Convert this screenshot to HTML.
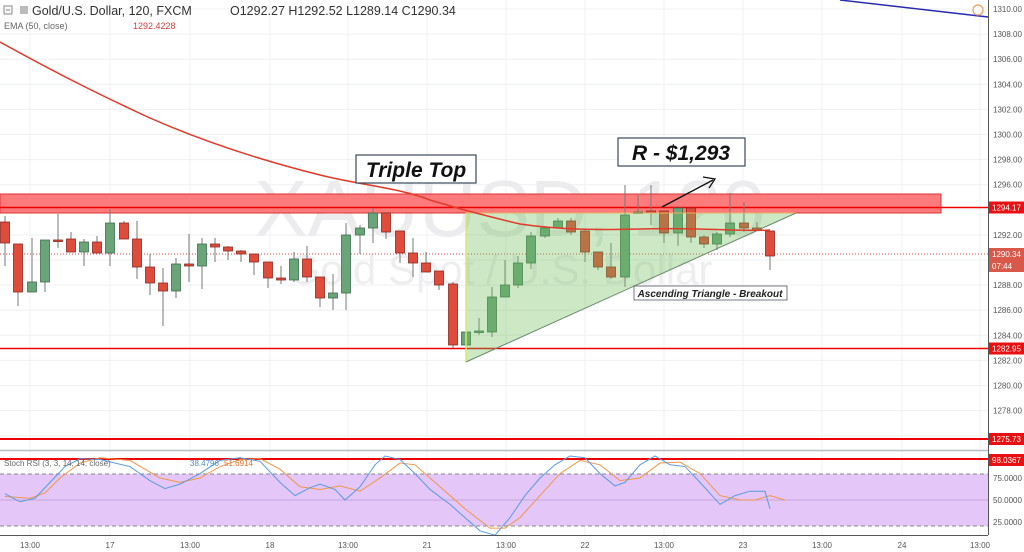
<!DOCTYPE html>
<html><head><meta charset="utf-8"><style>
html,body{margin:0;padding:0;background:#fff;}
svg{display:block;font-family:"Liberation Sans",sans-serif;}
</style></head><body>
<svg id="c" width="1024" height="552" viewBox="0 0 1024 552" xmlns="http://www.w3.org/2000/svg">
<rect width="1024" height="552" fill="#fff"/>
<g id="grid" stroke="#eef0f3" stroke-width="1"></g>
<text x="510" y="236" font-size="80" fill="#ececef" text-anchor="middle">XAUUSD, 120</text>
<text x="500" y="284" font-size="42" fill="#eeeef1" text-anchor="middle">Gold Spot / U.S. Dollar</text>
<!-- red band -->
<rect x="0" y="194" width="941" height="19" fill="#ff7b7b" stroke="#d33" stroke-width="1"/>
<line x1="0" y1="207.5" x2="988" y2="207.5" stroke="#e00" stroke-width="1.5"/>
<line x1="0" y1="348.5" x2="988" y2="348.5" stroke="#e00" stroke-width="1.5"/>
<line x1="0" y1="439" x2="988" y2="439" stroke="#e00" stroke-width="2"/>
<line x1="0" y1="254" x2="988" y2="254" stroke="#d44" stroke-width="1" stroke-dasharray="1,2"/>
<line x1="840" y1="0" x2="988" y2="17" stroke="#2a2ab0" stroke-width="1.5"/>
<circle cx="978" cy="10" r="5" fill="#fff" stroke="#e8a060" stroke-width="1.2"/>
<g id="candles"></g>
<polygon points="466,213 796,213 466,362" fill="rgba(110,190,90,0.35)" stroke="none"/>
<line x1="466" y1="213" x2="466" y2="362" stroke="#dde86a" stroke-width="1.5"/>
<line x1="466" y1="213" x2="796" y2="213" stroke="#e8b060" stroke-width="1"/>
<line x1="466" y1="362" x2="796" y2="213" stroke="#6a8a6a" stroke-width="1"/>
<path id="ema" fill="none" stroke="#e03a2a" stroke-width="1.5" d="M0,42 C60,75 100,95 150,118 C200,140 260,160 320,175 C360,185 400,188 430,200 C450,206 470,212 520,224 C560,230 600,230 640,229 C700,227 740,232 770,230"/>
<!-- annotations -->
<rect x="356" y="155" width="120" height="28" fill="#fff" stroke="#3a4a5a" stroke-width="1.2"/>
<text x="416" y="177" font-size="21" font-weight="bold" font-style="italic" text-anchor="middle" fill="#111">Triple Top</text>
<rect x="618" y="138" width="127" height="28" fill="#fff" stroke="#3a4a5a" stroke-width="1.2"/>
<text x="681" y="160" font-size="21" font-weight="bold" font-style="italic" text-anchor="middle" fill="#111">R - $1,293</text>
<line x1="662" y1="207" x2="713" y2="180" stroke="#111" stroke-width="1.3"/>
<polyline points="703,177 715,179 709,188" fill="none" stroke="#111" stroke-width="1.3"/>
<rect x="634" y="286" width="153" height="14" fill="#fff" stroke="#556" stroke-width="0.8"/>
<text x="710" y="297" font-size="10" font-weight="bold" font-style="italic" text-anchor="middle" fill="#222">Ascending Triangle - Breakout</text>
<!-- header -->
<rect x="4" y="6" width="8" height="8" fill="none" stroke="#888"/>
<line x1="6" y1="10" x2="10" y2="10" stroke="#888"/>
<rect x="20" y="6" width="8" height="8" fill="#bbb"/>
<text x="32" y="15" font-size="12.5" fill="#333">Gold/U.S. Dollar, 120, FXCM</text>
<text x="230" y="15" font-size="12.5" fill="#333">O1292.27  H1292.52  L1289.14  C1290.34</text>
<text x="4" y="29" font-size="9" fill="#666">EMA (50, close)</text>
<text x="133" y="29" font-size="9" fill="#d04040">1292.4228</text>
<!-- pane separator -->
<line x1="0" y1="450.5" x2="988" y2="450.5" stroke="#b8bcc4" stroke-width="1.5"/>
<!-- stoch -->
<rect x="0" y="474" width="988" height="52" fill="#e4c6f8"/>
<line x1="0" y1="474" x2="988" y2="474" stroke="#888" stroke-dasharray="4,3"/>
<line x1="0" y1="526" x2="988" y2="526" stroke="#888" stroke-dasharray="4,3"/>
<line x1="0" y1="500" x2="988" y2="500" stroke="#c6a6dc"/>
<line x1="0" y1="459" x2="988" y2="459" stroke="#e00" stroke-width="2"/>
<polyline id="orange" fill="none" stroke="#f0964a" stroke-width="1"/>
<polyline id="blue" fill="none" stroke="#5a9ae0" stroke-width="1"/>
<text x="4" y="466" font-size="8" fill="#666">Stoch RSI (3, 3, 14, 14, close)</text>
<text x="190" y="466" font-size="8" fill="#4a8ad0">38.4796</text>
<text x="224" y="466" font-size="8" fill="#e07030">51.6914</text>
<!-- axes -->
<line x1="988.5" y1="0" x2="988.5" y2="535" stroke="#555"/>
<line x1="0" y1="535.5" x2="988" y2="535.5" stroke="#555"/>
<g id="axis" font-size="8" fill="#555"></g>
</svg>
<script>
var NS="http://www.w3.org/2000/svg";
function el(p,t,a,txt){var e=document.createElementNS(NS,t);for(var k in a)e.setAttribute(k,a[k]);if(txt!==undefined)e.textContent=txt;document.getElementById(p).appendChild(e);return e;}
function py(p){return 9+(1310-p)*12.55;}
var tx=[30,110,190,270,348,427,506,585,664,743,822,902,980];
tx.forEach(function(x){el('grid','line',{x1:x,y1:0,x2:x,y2:535});});
for(var p=1310;p>=1276;p-=2){el('grid','line',{x1:0,y1:py(p),x2:988,y2:py(p)});}
for(var p=1310;p>=1278;p-=2){el('axis','text',{x:993,y:py(p)+3},p.toFixed(2));}
var tl=["13:00","17","13:00","18","13:00","21","13:00","22","13:00","23","13:00","24","13:00"];
tx.forEach(function(x,i){el('axis','text',{x:x,y:548,'text-anchor':'middle'},tl[i]);});
[["75.0000",478],["50.0000",500],["25.0000",522]].forEach(function(a){el('axis','text',{x:993,y:a[1]+3},a[0]);});
function tag(y,t,c){el('axis','rect',{x:989,y:y-6,width:35,height:12,fill:c});var e=el('axis','text',{x:992,y:y+3,fill:'#fff'},t);}
tag(207.5,"1294.17","#e81010");tag(254,"1290.34","#d8584a");tag(266,"07:44","#d8584a");
tag(348.5,"1282.95","#e81010");tag(439,"1275.73","#e81010");tag(460,"98.0367","#e81010");
var C=[[5,222,243,216,266],[18,244,292,244,306],[32,292,282,238,292],[45,282,240,240,292],[58,240,241,214,248],
[71,239,252,232,252],[84,252,242,239,266],[97,242,253,236,253],[110,253,223,209,266],[124,223,239,221,239],
[137,239,267,221,279],[150,267,283,254,295],[163,283,291,268,326],[176,291,264,258,298],[189,264,266,234,282],
[202,266,244,238,289],[215,244,247,238,262],[228,247,251,246,260],[241,251,254,250,262],[254,254,262,254,275],
[268,262,278,262,288],[281,278,280,266,284],[294,280,259,252,282],[307,259,277,246,282],[320,277,298,277,307],
[333,298,293,274,310],[346,293,235,223,310],[360,235,228,225,254],[373,228,213,208,243],[386,213,232,213,239],
[400,231,253,231,263],[413,253,263,238,277],[426,263,272,252,272],[439,271,285,271,290],[453,284,345,282,348],
[466,345,332,332,345],[479,332,331,318,335],[492,332,297,287,337],[505,297,285,260,297],[518,285,263,256,288],
[531,263,236,232,269],[545,236,228,226,238],[558,228,221,218,228],[571,221,232,218,235],[585,231,252,230,262],
[598,252,267,252,270],[611,267,277,243,279],[625,277,215,185,287],[638,213,212,195,213],[651,211,213,185,225],
[664,211,233,211,243],[678,233,208,208,246],[691,208,237,208,243],[704,237,244,235,248],[717,244,234,232,250],
[730,234,223,193,237],[744,223,228,202,232],[757,228,230,222,231],[770,231,256,231,270]];
C.forEach(function(c){var up=c[2]<c[1];var col=up?'#6aa57a':'#e04c3c';var st=up?'#3d6e4c':'#8a2a22';
el('candles','line',{x1:c[0],y1:c[3],x2:c[0],y2:c[4],stroke:'#777','stroke-width':1});
var t=Math.min(c[1],c[2]),h=Math.max(1.5,Math.abs(c[1]-c[2]));
el('candles','rect',{x:c[0]-4.5,y:t,width:9,height:h,fill:col,stroke:st,'stroke-width':0.8});});
function sy(v){return 500-(v-50)*0.88;}
var B=[[5,57],[20,48],[35,52],[50,70],[65,88],[80,97],[100,96],[130,88],[150,72],[165,63],[180,68],[200,80],[220,95],[240,98],[260,94],[280,70],[295,55],[310,64],[320,68],[335,62],[345,50],[360,65],[375,90],[385,100],[400,96],[415,80],[430,62],[450,45],[465,30],[480,15],[495,10],[510,30],[525,55],[540,75],[555,90],[570,100],[585,98],[600,80],[615,66],[625,70],[640,90],[655,100],[670,90],[685,88],[700,70],[720,45],[735,55],[750,60],[765,60],[770,40]];
var O=[[5,54],[30,52],[45,58],[60,75],[80,92],[100,98],[130,95],[160,75],[180,70],[200,75],[220,88],[240,96],[260,97],[280,85],[300,65],[320,62],[340,66],[360,60],[380,75],[400,92],[415,90],[440,65],[465,40],[490,18],[505,18],[520,30],[540,55],[560,80],[580,95],[600,90],[620,72],[640,75],[660,92],[680,93],[700,80],[720,55],[740,50],[755,50],[770,55],[785,50]];
document.getElementById('blue').setAttribute('points',B.map(function(a){return a[0]+','+sy(a[1]);}).join(' '));
document.getElementById('orange').setAttribute('points',O.map(function(a){return a[0]+','+sy(a[1]);}).join(' '));
</script>
</body></html>
